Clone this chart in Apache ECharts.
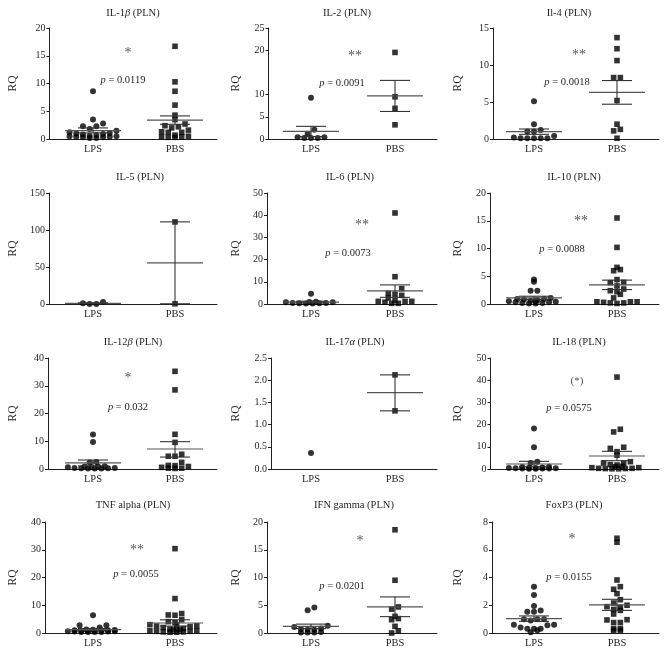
<!DOCTYPE html>
<html><head><meta charset="utf-8">
<script src="https://cdn.jsdelivr.net/npm/echarts@6/dist/echarts.min.js"></script>
<style>html,body{margin:0;padding:0;background:#fff}#c{width:667px;height:656px}</style>
</head><body><div id="c"></div>
<script>
// ---------------- DATA ----------------
const GROUPS = ['LPS', 'PBS'];
const TITLES = ['IL-1β (PLN)', 'IL-2 (PLN)', 'Il-4 (PLN)', 'IL-5 (PLN)', 'IL-6 (PLN)', 'IL-10 (PLN)',
  'IL-12β (PLN)', 'IL-17α (PLN)', 'IL-18 (PLN)', 'TNF alpha (PLN)', 'IFN gamma (PLN)', 'FoxP3 (PLN)'];
const Y_MAX = [20, 25, 15, 150, 50, 20, 40, 2.5, 50, 40, 20, 8];
const Y_STEP = [5, 5, 5, 50, 10, 5, 10, 0.5, 10, 10, 5, 2];
const Y_TICKS_IL2 = [0, 5, 10, 20, 25];
const P_VALUES = ['0.0119', '0.0091', '0.0018', null, '0.0073', '0.0088', '0.032', null, '0.0575', '0.0055', '0.0201', '0.0155'];
const STARS = ['*', '**', '**', null, '**', '**', '*', null, '(*)', '**', '*', '*'];

const IL1B_LPS = [8.6, 3.5, 2.8, 2.3, 2.3, 1.8, 1.5, 1.2, 1.0, 0.8, 0.6, 0.5, 0.4, 0.3, 0.2, 0.2, 0.3, 0.4, 0.5, 0.7, 0.9, 1.1];
const IL1B_PBS = [16.7, 10.3, 8.6, 6.1, 4.3, 3.5, 2.7, 2.4, 2.2, 2.0, 1.6, 1.3, 1.2, 1.2, 0.5, 0.4, 0.3, 0.3, 0.4, 0.7];
const IL2_LPS = [9.3, 2.1, 0.4, 0.2, 0.2, 0.2, 0.4, 1.2];
const IL2_PBS = [19.5, 9.5, 6.9, 3.2];
const IL4_LPS = [5.1, 2.0, 1.2, 1.0, 1.0, 0.4, 0.1, 0.1, 0.1, 0.1, 0.1, 0.2];
const IL4_PBS = [13.7, 12.2, 10.6, 8.3, 8.3, 5.2, 2.0, 1.3, 1.1, 0.1];
const IL5_LPS = [0.9, 0.1, 0.1, 2.7];
const IL5_PBS = [110.9, 0.3];
const IL6_LPS = [4.6, 0.9, 0.8, 0.5, 0.3, 0.2, 0.2, 0.3, 0.5, 0.8, 1.0];
const IL6_PBS = [41.0, 12.3, 6.9, 4.4, 3.9, 4.8, 2.7, 1.5, 1.2, 0.8, 0.3, 0.3, 1.2, 1.2];
const IL10_LPS = [4.4, 4.0, 2.4, 2.4, 1.1, 0.9, 0.7, 0.5, 0.4, 0.3, 0.2, 0.1, 0.1, 0.2, 0.3, 0.5, 0.6, 0.8, 0.9];
const IL10_PBS = [15.5, 10.2, 6.6, 6.2, 6.0, 4.4, 3.85, 3.9, 3.25, 2.4, 2.7, 2.2, 1.75, 1.1, 0.4, 0.4, 0.3, 0.2, 0.1, 0.2, 0.4];
const IL12_LPS = [12.4, 9.7, 2.3, 2.5, 0.9, 0.6, 0.4, 0.3, 0.2, 0.2, 0.2, 0.3, 0.4, 0.6, 0.9, 1.0];
const IL12_PBS = [35.2, 28.5, 12.5, 9.6, 4.6, 4.6, 5.3, 2.4, 1.3, 0.9, 0.3, 0.2, 0.3, 0.6, 1.2];
const IL17_LPS = [0.36];
const IL17_PBS = [2.12, 1.31];
const IL18_LPS = [18.2, 9.8, 3.3, 2.7, 1.05, 0.9, 0.6, 0.4, 0.3, 0.2, 0.1, 0.1, 0.2, 0.2, 0.3, 0.5, 0.7];
const IL18_PBS = [41.4, 17.9, 16.7, 9.8, 9.3, 7.8, 6.2, 3.3, 2.7, 1.8, 1.0, 0.6, 0.3, 0.2, 0.1, 0.1, 0.2, 0.3, 0.6, 1.2, 2.0, 2.6];
const TNF_LPS = [6.4, 2.8, 2.8, 2.0, 1.3, 1.2, 1.0, 0.9, 0.7, 0.6, 0.5, 0.4, 0.4, 0.4, 0.4, 0.5, 0.6, 0.7, 0.9, 1.0, 1.1];
const TNF_PBS = [30.4, 12.4, 7.0, 6.4, 6.5, 4.8, 4.1, 3.8, 3.0, 3.0, 2.6, 2.5, 2.3, 2.0, 1.6, 1.4, 1.1, 0.8, 0.6, 0.4, 0.3, 0.3, 0.4, 0.6, 0.8, 1.1, 1.4];
const IFN_LPS = [4.6, 4.1, 1.3, 1.1, 0.8, 0.7, 0.6, 0.6, 0.1, 0.1, 0.1, 0.2];
const IFN_PBS = [18.6, 9.5, 4.7, 4.3, 3.0, 2.6, 2.4, 1.2, 0.4, 0.0];
const FOXP3_LPS = [3.34, 2.74, 1.95, 1.63, 1.54, 1.54, 1.0, 1.0, 0.9, 1.0, 0.6, 0.6, 0.55, 0.3, 0.3, 0.3, 0.05, 0.2, 0.4];
const FOXP3_PBS = [6.83, 6.54, 3.82, 3.34, 3.15, 2.84, 2.4, 2.16, 2.0, 1.9, 1.85, 1.63, 1.37, 1.7, 0.94, 0.96, 0.75, 0.75, 0.31, 0.19, 0.19, 0.31];

const LPS_POINTS = [IL1B_LPS, IL2_LPS, IL4_LPS, IL5_LPS, IL6_LPS, IL10_LPS, IL12_LPS, IL17_LPS, IL18_LPS, TNF_LPS, IFN_LPS, FOXP3_LPS];
const PBS_POINTS = [IL1B_PBS, IL2_PBS, IL4_PBS, IL5_PBS, IL6_PBS, IL10_PBS, IL12_PBS, IL17_PBS, IL18_PBS, TNF_PBS, IFN_PBS, FOXP3_PBS];

// mean and SEM limits
const LPS_MEAN   = [1.5, 1.7, 1.0, 0.9, 0.85, 1.1, 2.2, null, 2.25, 1.2, 1.2, 1.03];
const LPS_SEM_LO = [1.1, 0.55, 0.63, 0.34, 0.5, 0.8, 1.1, null, 1.05, 0.85, 0.8, 0.84];
const LPS_SEM_HI = [2.0, 2.85, 1.35, 1.56, 1.25, 1.4, 3.24, null, 3.45, 1.6, 1.6, 1.23];
const PBS_MEAN   = [3.4, 9.7, 6.3, 55.7, 5.9, 3.43, 7.2, 1.72, 5.86, 3.6, 4.7, 2.02];
const PBS_SEM_LO = [2.65, 6.2, 4.7, 0.3, 3.0, 2.6, 4.3, 1.31, 3.75, 2.5, 2.95, 1.63];
const PBS_SEM_HI = [4.16, 13.2, 7.9, 111, 8.6, 4.3, 9.85, 2.12, 7.95, 4.75, 6.5, 2.43];

// ---------------- LAYOUT ----------------
const COL_LPS_X = [93, 311, 534];
const COL_PBS_X = [175, 395, 617];
const AXIS_LEFT = [49.5, 268.5, 493, 49, 267, 490, 48, 271, 490.5, 45, 267, 492];
const ROW_TOP = [28, 193, 358, 522];
const PLOT_H = 111;
const TITLE_POS = [[133,13],[347,13],[569,13],[140,177],[350,177],[574,177],[133,342],[355,342],[579,342],[133,505],[354,505],[574,505]];
const RQ_X = [13, 236, 458];
const STAR_POS = [[128,49],[355,52],[579,51],null,[362,221],[581,217],[128,374],null,[577,381],[137,546],[360,537],[572,535]];
const P_POS = [[123,80],[342,83],[567,82],null,[348,253],[562,249],[128,407],null,[569,408],[136,574],[342,586],[569,577]];

const FONT = '"Liberation Serif", "Times New Roman", serif';
const INK = '#231f20';

// GraphPad-like row layout: points in the same vertical band are spread in a centred row,
// long rows are wrapped into staggered sub-rows
function rowsLayout(vals, pxPerUnit, h, s, maxN) {
  const bins = new Map();
  vals.forEach((v, i) => {
    const b = Math.round(v * pxPerUnit / h);
    if (!bins.has(b)) bins.set(b, []);
    bins.get(b).push(i);
  });
  const out = new Array(vals.length);
  bins.forEach(all => {
    all.sort((a, b) => vals[a] - vals[b]);
    const nRows = Math.ceil(all.length / maxN);
    for (let r = 0; r < nRows; r++) {
      const ids = all.slice(r * maxN, (r + 1) * maxN);
      const n = ids.length;
      const shift = nRows > 1 ? (r % 2 ? s / 4 : -s / 4) : 0;
      const offs = [];
      for (let j = 0; j < n; j++) offs.push((j - (n - 1) / 2) * s + shift);
      const ord = offs.map((o, j) => j).sort((a, b) => Math.abs(offs[a]) - Math.abs(offs[b]) || (a - b));
      ids.forEach((id, k) => { out[id] = offs[ord[k]]; });
    }
  });
  return out;
}

function richify(t) {
  return t.replace(/([αβ])/g, '{i|$1}');
}

const grids = [], xAxes = [], yAxes = [], series = [], graphics = [];
for (let i = 0; i < 12; i++) {
  const col = i % 3, row = Math.floor(i / 3);
  const lx = COL_LPS_X[col], px = COL_PBS_X[col], sp = px - lx;
  const left = AXIS_LEFT[i], right = px + 42, top = ROW_TOP[row];
  grids.push({ left, top, width: right - left, height: PLOT_H });
  xAxes.push({
    type: 'value', gridIndex: i, min: (left - lx) / sp, max: (right - lx) / sp,
    axisLine: { show: true, onZero: false, lineStyle: { color: INK, width: 1 } },
    axisTick: { show: false },
    splitLine: { show: false },
    axisLabel: { customValues: [0, 1], formatter: v => GROUPS[Math.round(v)], fontFamily: FONT, fontSize: 10.5, color: INK, margin: 5 }
  });
  const yAx = {
    type: 'value', gridIndex: i, min: 0, max: Y_MAX[i], interval: Y_STEP[i],
    axisLine: { show: true, onZero: false, lineStyle: { color: INK, width: 1 } },
    axisTick: { show: true, length: 3, lineStyle: { color: INK } },
    splitLine: { show: false },
    axisLabel: { fontFamily: FONT, fontSize: 10, color: INK, margin: 4,
      formatter: v => Y_STEP[i] < 1 ? v.toFixed(1) : String(v) }
  };
  if (i === 1) { yAx.axisLabel.customValues = Y_TICKS_IL2; yAx.axisTick.customValues = Y_TICKS_IL2; }
  yAxes.push(yAx);

  const pxPerUnit = PLOT_H / Y_MAX[i];
  [LPS_POINTS[i], PBS_POINTS[i]].forEach((vals, g) => {
    const offs = rowsLayout(vals, pxPerUnit, 6.5, 6.7, 8);
    series.push({
      type: 'scatter', xAxisIndex: i, yAxisIndex: i,
      symbol: g === 0 ? 'circle' : 'rect', symbolSize: g === 0 ? 6 : 5.6,
      itemStyle: { color: '#000' }, silent: true, z: 2,
      data: vals.map((v, k) => [g + offs[k] / sp, v])
    });
  });
  const bars = [];
  if (LPS_MEAN[i] != null) bars.push([0, LPS_MEAN[i], LPS_SEM_LO[i], LPS_SEM_HI[i]]);
  if (PBS_MEAN[i] != null) bars.push([1, PBS_MEAN[i], PBS_SEM_LO[i], PBS_SEM_HI[i]]);
  series.push({
    type: 'custom', xAxisIndex: i, yAxisIndex: i, z: 3, silent: true, clip: false,
    encode: { x: 0, y: 1 },
    data: bars,
    renderItem: (params, api) => {
      const g = api.value(0);
      const c = api.coord([g, api.value(1)]);
      const lo = api.coord([g, api.value(2)]);
      const hi = api.coord([g, api.value(3)]);
      const st = { stroke: '#333', lineWidth: 1.1 };
      return { type: 'group', children: [
        { type: 'line', shape: { x1: c[0] - 28, y1: c[1], x2: c[0] + 28, y2: c[1] }, style: { stroke: '#555', lineWidth: 1.2 } },
        { type: 'line', shape: { x1: c[0], y1: lo[1], x2: c[0], y2: hi[1] }, style: st },
        { type: 'line', shape: { x1: c[0] - 15, y1: lo[1], x2: c[0] + 15, y2: lo[1] }, style: st },
        { type: 'line', shape: { x1: c[0] - 15, y1: hi[1], x2: c[0] + 15, y2: hi[1] }, style: st }
      ] };
    }
  });

  graphics.push({ type: 'text', x: TITLE_POS[i][0], y: TITLE_POS[i][1], silent: true,
    style: { text: richify(TITLES[i]), align: 'center', verticalAlign: 'middle', font: '10.5px ' + FONT, fill: INK,
      rich: { i: { fontStyle: 'italic', fontSize: 10.5, fontFamily: FONT, fill: INK } } } });
  graphics.push({ type: 'text', x: RQ_X[col], y: top + PLOT_H / 2, rotation: Math.PI / 2, silent: true,
    style: { text: 'RQ', align: 'center', verticalAlign: 'middle', font: '11.5px ' + FONT, fill: INK } });
  if (STARS[i]) {
    const paren = STARS[i].indexOf('(') >= 0;
    graphics.push({ type: 'text', x: STAR_POS[i][0], y: STAR_POS[i][1] + (paren ? 0 : 4), silent: true,
      style: { text: STARS[i], align: 'center', verticalAlign: 'middle', font: (paren ? '11px ' : '14px ') + FONT, fill: '#555' } });
  }
  if (P_VALUES[i]) graphics.push({ type: 'text', x: P_POS[i][0], y: P_POS[i][1], silent: true,
    style: { text: '{i|p} = ' + P_VALUES[i], align: 'center', verticalAlign: 'middle', font: '10.5px ' + FONT, fill: INK,
      rich: { i: { fontStyle: 'italic', fontSize: 10.5, fontFamily: FONT, fill: INK } } } });
}

const chart = echarts.init(document.getElementById('c'), null, { renderer: 'canvas' });
chart.setOption({
  animation: false,
  backgroundColor: '#fff',
  grid: grids, xAxis: xAxes, yAxis: yAxes, series, graphic: graphics
});
</script></body></html>
